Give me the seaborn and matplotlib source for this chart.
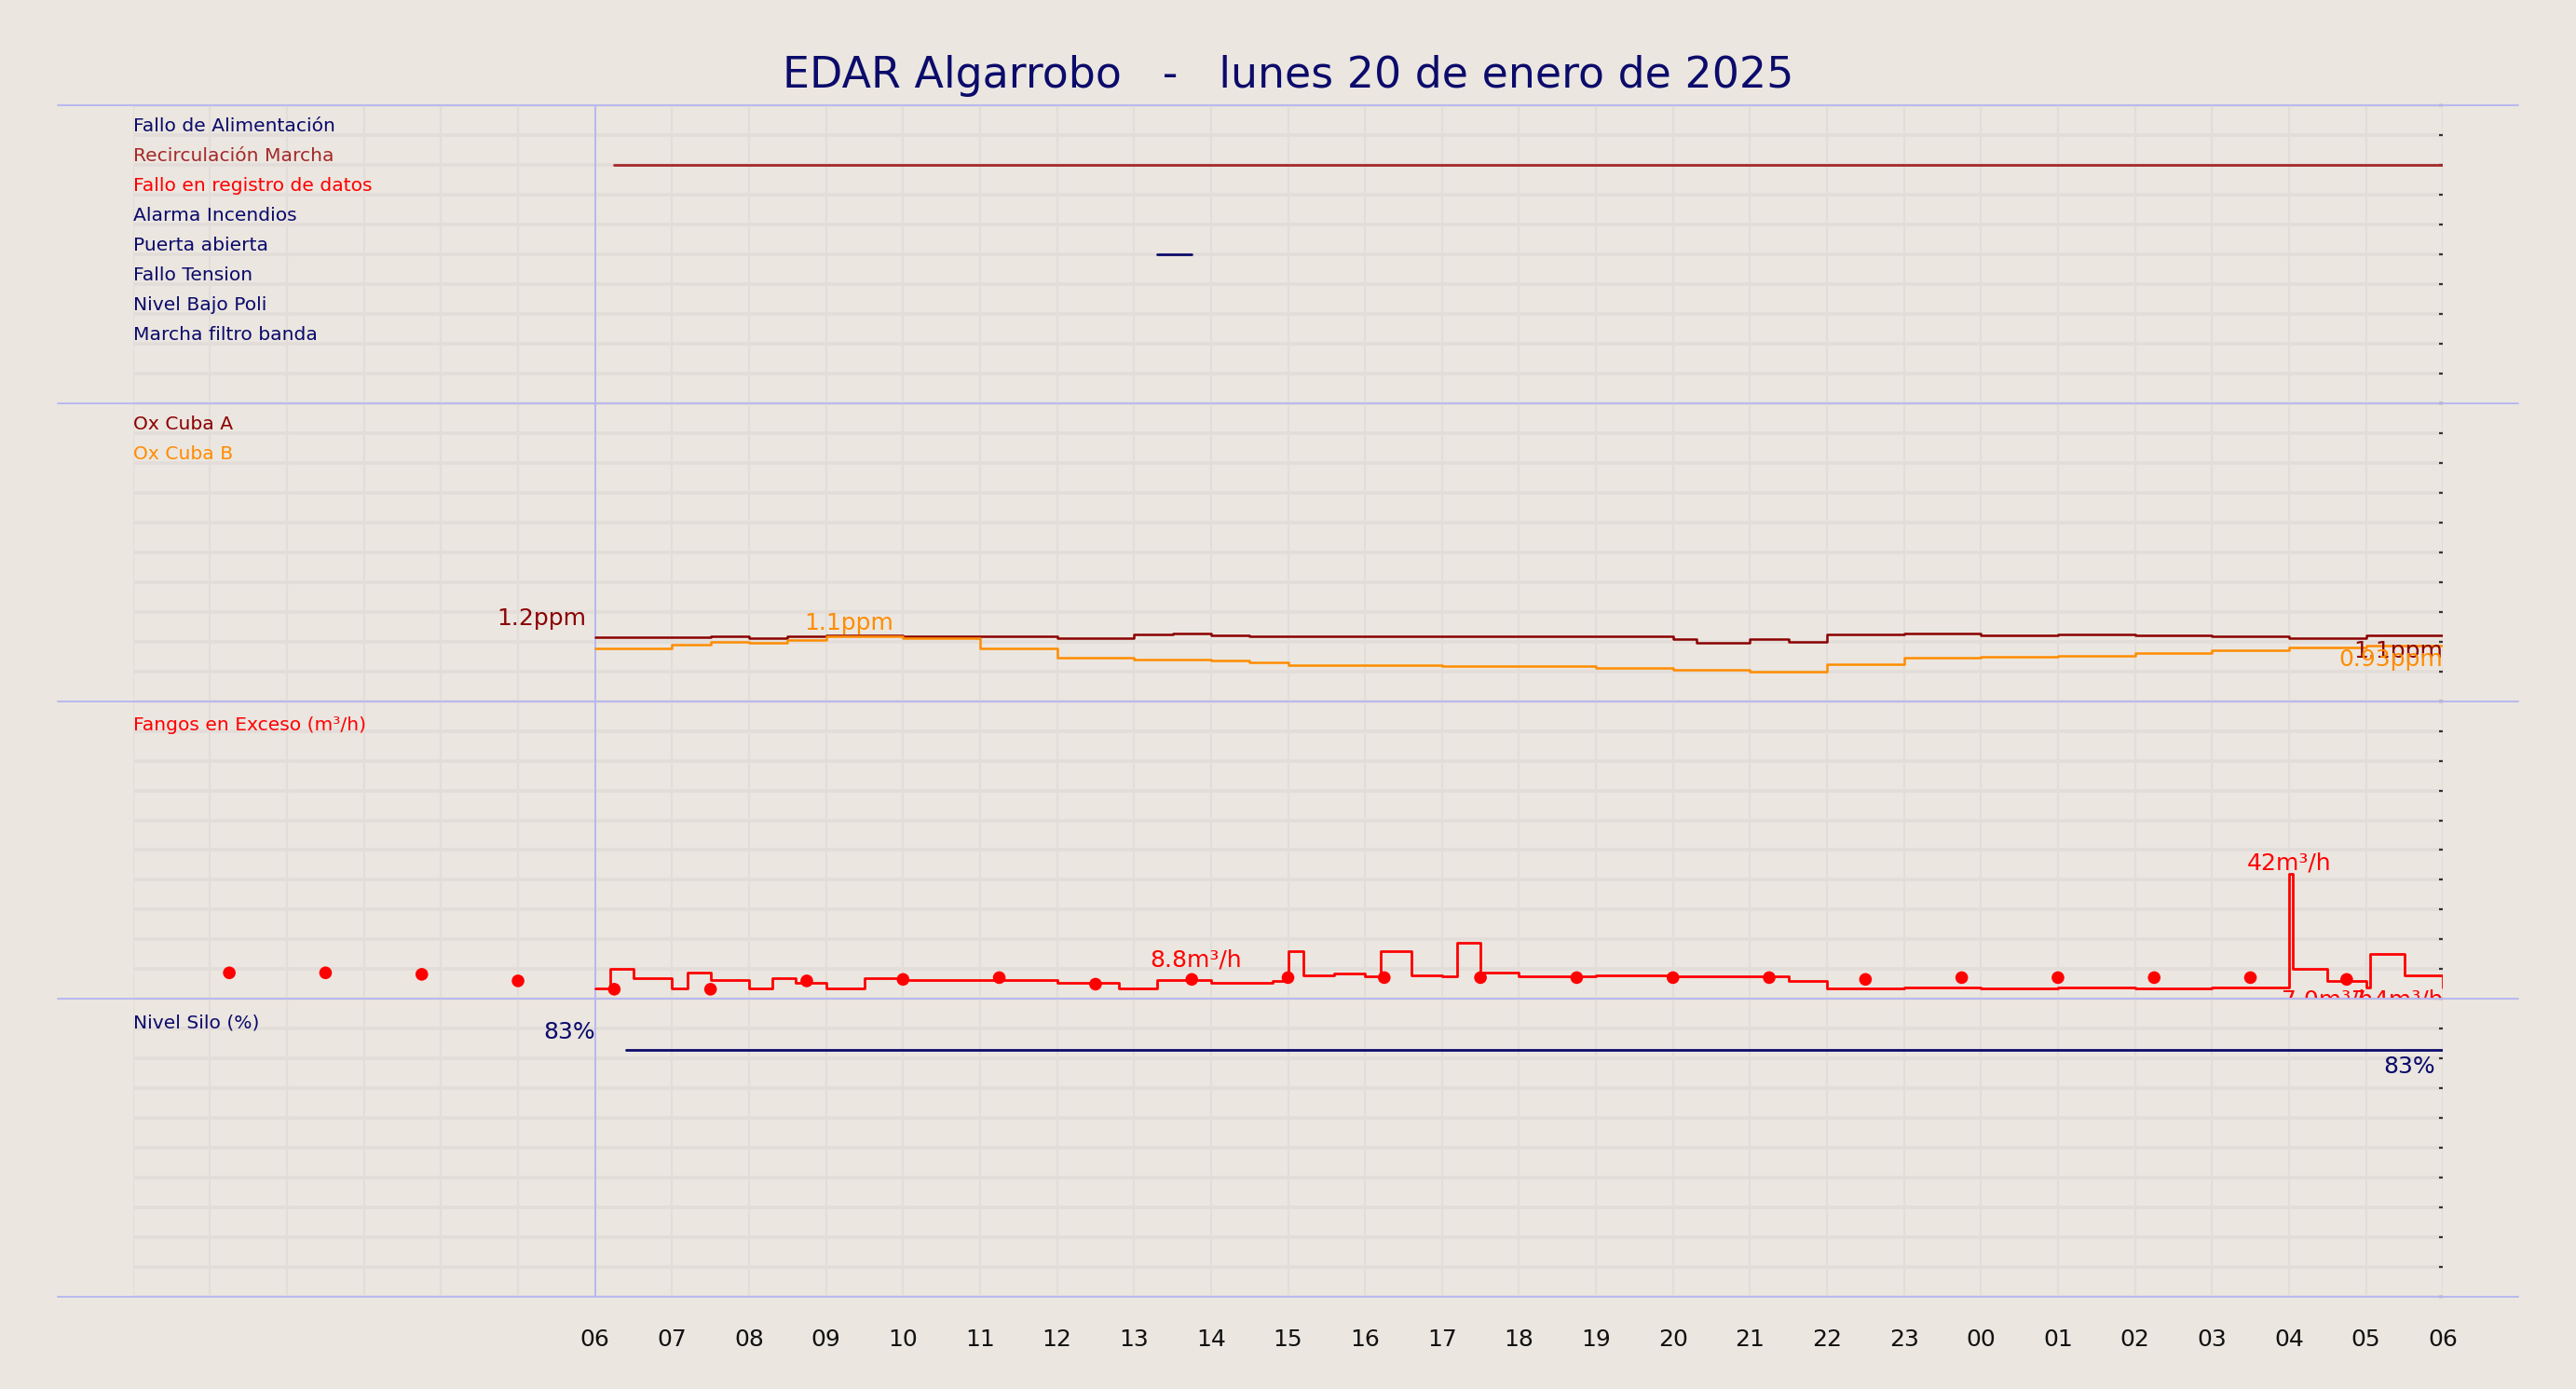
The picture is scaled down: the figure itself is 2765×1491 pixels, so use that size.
import numpy as np
import pandas as pd
import matplotlib
matplotlib.use("Agg")
import matplotlib.pyplot as plt
import seaborn as sns

# ---- data ----
alarm_labels = ["Fallo de Alimentación", "Recirculación Marcha", "Fallo en registro de datos",
                "Alarma Incendios", "Puerta abierta", "Fallo Tension", "Nivel Bajo Poli",
                "Marcha filtro banda"]
alarm_colors = ["#0b0b6b", "#a52a2a", "#ff0000", "#0b0b6b", "#0b0b6b", "#0b0b6b", "#0b0b6b", "#0b0b6b"]
recirc_on = [6.25, 30.0]
puerta_on = [13.3, 13.75]

ox_t = [6, 7, 7.5, 8, 8.5, 9, 10, 11, 12, 13, 13.5, 14, 14.5, 15, 17, 19, 20, 20.3, 21, 21.5, 22, 23, 24, 25, 26, 27, 28, 29, 30]
oxA = [1.07, 1.07, 1.09, 1.06, 1.09, 1.1, 1.09, 1.08, 1.06, 1.12, 1.13, 1.11, 1.08, 1.09, 1.08, 1.08, 1.04, 0.98, 1.04, 1.0, 1.12, 1.13, 1.11, 1.12, 1.11, 1.08, 1.06, 1.1, 1.1]
oxB = [0.88, 0.95, 1.0, 0.97, 1.02, 1.08, 1.05, 0.88, 0.72, 0.7, 0.7, 0.68, 0.65, 0.6, 0.58, 0.56, 0.52, 0.52, 0.5, 0.5, 0.62, 0.72, 0.75, 0.76, 0.8, 0.85, 0.9, 0.93, 0.93]

fan_t = [6, 6.2, 6.5, 7, 7.2, 7.5, 8, 8.3, 8.6, 9, 9.5, 10, 11, 12, 12.8, 13.3, 14, 14.8, 15, 15.2, 15.6, 16, 16.2, 16.6, 17, 17.2, 17.5, 18, 19, 20, 21, 21.5, 22, 23, 24, 25, 26, 27, 28, 28.05, 28.5, 29, 29.05, 29.5, 30]
fan_v = [3.5, 10, 7, 3.5, 9, 6.5, 3.5, 7, 5.5, 3.5, 7, 6.5, 6.5, 5.5, 3.5, 6.5, 5.5, 6.0, 16, 8, 8.5, 7.5, 16, 8, 7.5, 19, 9, 7.5, 8, 7.5, 7.5, 6, 3.5, 4, 3.5, 4, 3.5, 4, 42, 10, 6, 4, 15, 8, 4]
dot_t = [1.25 * k for k in range(1, 24)]
dot_v = [8.8, 8.8, 8.3, 6.1, 3.3, 3.3, 6.1, 6.6, 7.2, 5.0, 6.6, 7.2, 7.2, 7.2, 7.2, 7.2, 7.2, 6.6, 7.2, 7.2, 7.2, 7.2, 6.6]

silo_t = [6.4, 10, 14, 18, 22, 26, 30]
silo_v = [83, 83, 83, 83, 83, 83, 83]

hour_labels = ["06", "07", "08", "09", "10", "11", "12", "13", "14", "15", "16", "17", "18", "19",
               "20", "21", "22", "23", "00", "01", "02", "03", "04", "05", "06"]

# ---- style ----
BG = "#ebe6e0"
sns.set_theme(style="white")
plt.rcParams['font.family'] = ['DejaVu Sans']
NAVY = "#0b0b6b"
FS = 7.3

fig = plt.figure(figsize=(13.825, 7.455), dpi=200, facecolor=BG)
L, R, T, B = 81 / 1568, 1487 / 1568, 1 - 64 / 846, 1 - 790 / 846
h = (T - B) / 4
axes = [fig.add_axes([L, T - (i + 1) * h, R - L, h]) for i in range(4)]
ylims = [(10, 0), (0, 5), (0, 100), (0, 100)]
for ax, yl in zip(axes, ylims):
    ax.set_facecolor(BG)
    ax.set_xlim(0, 30)
    ax.set_ylim(*yl)
    ax.set_xticks(np.arange(0, 31, 1))
    lo, hi = min(yl), max(yl)
    ax.set_yticks(np.linspace(lo, hi, 11))
    ax.grid(axis="x", color="#e2ddd9", lw=0.8)
    ax.grid(axis="y", color="#e2ddd9", lw=1.3)
    for s in ax.spines.values():
        s.set_visible(False)
    ax.tick_params(axis="y", left=False, right=True, labelleft=False, length=1.5, width=0.8, color="#333333", direction="in")
    ax.tick_params(axis="x", bottom=False, labelbottom=False)
    ax.axvline(6, color="#b8b8f0", lw=0.7)
    ax.set_xlabel(""); ax.set_ylabel("")

# panel 1
ax = axes[0]
for i, (lab, c) in enumerate(zip(alarm_labels, alarm_colors)):
    ax.text(0, i + 0.72, lab, color=c, fontsize=FS, va="center", ha="left")
sns.lineplot(x=recirc_on, y=[2, 2], color="#a52a2a", lw=1.0, ax=ax)
sns.lineplot(x=puerta_on, y=[5, 5], color=NAVY, lw=1.0, ax=ax)
ax.set_ylim(10, 0)

# panel 2
ax = axes[1]
ax.text(0, 4.64, "Ox Cuba A", color="#8b0000", fontsize=FS, va="center")
ax.text(0, 4.14, "Ox Cuba B", color="#ff8c00", fontsize=FS, va="center")
sns.lineplot(x=ox_t, y=oxA, drawstyle="steps-post", color="#8b0000", lw=0.9, ax=ax)
sns.lineplot(x=ox_t, y=oxB, drawstyle="steps-post", color="#ff8c00", lw=0.9, ax=ax)
ax.text(5.3, 1.2, "1.2ppm", color="#8b0000", fontsize=9, ha="center", va="bottom")
ax.text(9.3, 1.12, "1.1ppm", color="#ff8c00", fontsize=9, ha="center", va="bottom")
ax.text(30, 1.03, "1.1ppm", color="#8b0000", fontsize=9, ha="right", va="top")
ax.text(30, 0.88, "0.93ppm", color="#ff8c00", fontsize=9, ha="right", va="top")

# panel 3
ax = axes[2]
ax.text(0, 92, "Fangos en Exceso (m³/h)", color="#ff0000", fontsize=FS, va="center")
sns.lineplot(x=fan_t, y=fan_v, drawstyle="steps-post", color="#ff0000", lw=1.0, ax=ax)
sns.scatterplot(x=dot_t, y=dot_v, color="#ff0000", s=24, edgecolor="none", ax=ax)
ax.text(13.8, 9.5, "8.8m³/h", color="#ff0000", fontsize=9, ha="center", va="bottom")
ax.text(28, 42, "42m³/h", color="#ff0000", fontsize=9, ha="center", va="bottom")
ax.text(27.9, 3.3, "7.0m³/h", color="#ff0000", fontsize=9, ha="left", va="top")
ax.text(30, 3.3, "7.4m³/h", color="#ff0000", fontsize=9, ha="right", va="top")

# panel 4
ax = axes[3]
ax.text(0, 92, "Nivel Silo (%)", color=NAVY, fontsize=FS, va="center")
sns.lineplot(x=silo_t, y=silo_v, color=NAVY, lw=1.0, ax=ax)
ax.text(6, 85, "83%", color=NAVY, fontsize=9, ha="right", va="bottom")
ax.text(29.9, 81, "83%", color=NAVY, fontsize=9, ha="right", va="top")
ax.set_xticks(np.arange(6, 31, 1))
ax.set_xticks(np.arange(0, 31, 1), minor=True)
ax.set_xticklabels(hour_labels)
ax.grid(axis="x", which="minor", color="#e2ddd9", lw=0.8)
ax.tick_params(axis="x", labelbottom=True, labelsize=9, colors="#111111", pad=6)

for i in range(5):
    yy = T - i * h
    fig.add_artist(plt.Line2D([35 / 1568, 1533 / 1568], [yy, yy], color="#b8b8f0", lw=0.7, transform=fig.transFigure))

fig.text(0.5, 1 - 46 / 846, "EDAR Algarrobo   -   lunes 20 de enero de 2025", color=NAVY,
         fontsize=16.5, ha="center", va="center")
fig.savefig("out.png", dpi=200, facecolor=BG)
